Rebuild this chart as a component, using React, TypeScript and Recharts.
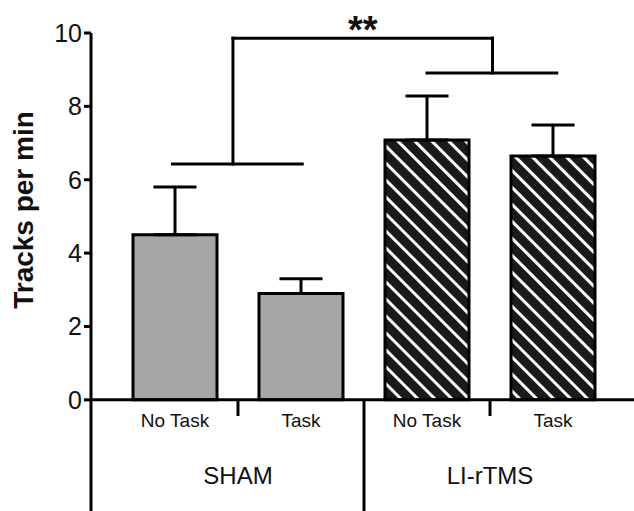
import React from 'react';
import {
  BarChart,
  Bar,
  XAxis,
  YAxis,
  Cell,
  ErrorBar,
  LabelList,
  ReferenceLine,
  ReferenceDot,
} from 'recharts';

// ---- data ----
const categories = ['No Task', 'Task', 'No Task', 'Task'];
const groups = ['SHAM', 'SHAM', 'LI-rTMS', 'LI-rTMS'];
const means = [4.5, 2.9, 7.08, 6.65];
const sems = [1.3, 0.4, 1.2, 0.84];
const yTicks = [0, 2, 4, 6, 8, 10];
const groupLabels = ['SHAM', 'LI-rTMS'];
const groupCenters = [0.5, 2.5]; // helper axis: bar index units (bar centers at 0..3)
const significance = '**';

// annotation geometry in data units (helper x axis: bar index, y: tracks/min)
const bracketSegments: [number, number, number, number][] = [
  [-0.02, 6.43, 1.01, 6.43],
  [0.46, 6.43, 0.46, 9.86],
  [0.46, 9.86, 2.52, 9.86],
  [2.52, 9.86, 2.52, 8.91],
  [2.0, 8.91, 3.03, 8.91],
];
const dividerSegments: [number, number, number, number][] = [
  [0.5, 0, 0.5, -0.44],
  [1.5, 0, 1.5, -3.03],
  [2.5, 0, 2.5, -0.44],
];

const data = categories.map((c, i) => ({
  key: `${groups[i]} ${c}`,
  task: c,
  group: groups[i],
  mean: means[i],
  err: [0, sems[i]],
}));

const FONT = '"Liberation Sans", Arial, Helvetica, sans-serif';
const INK = '#111';

const textLabel =
  (text: string, fontSize: number, weight: string | number = 'normal') =>
  (props: any) => {
    const vb = props.viewBox || {};
    const cx = (vb.x ?? 0) + (vb.width ?? 0) / 2;
    const cy = (vb.y ?? 0) + (vb.height ?? 0) / 2;
    return (
      <text
        x={cx}
        y={cy}
        textAnchor="middle"
        fontFamily={FONT}
        fontSize={fontSize}
        fontWeight={weight}
        fill={INK}
      >
        {text}
      </text>
    );
  };

const TaskLabel = (props: any) => {
  const x = props.x ?? props.viewBox?.x ?? 0;
  const y = props.y ?? props.viewBox?.y ?? 0;
  const w = props.width ?? props.viewBox?.width ?? 0;
  const h = props.height ?? props.viewBox?.height ?? 0;
  return (
    <text
      x={x + w / 2}
      y={y + h + 27}
      textAnchor="middle"
      fontFamily={FONT}
      fontSize={19}
      fill={INK}
    >
      {props.value}
    </text>
  );
};

const YLabel = () => (
  <text
    x={33}
    y={210}
    transform="rotate(-90 33 210)"
    textAnchor="middle"
    fontFamily={FONT}
    fontSize={28}
    fontWeight="bold"
    fill={INK}
  >
    Tracks per min
  </text>
);

export default function App() {
  return (
    <div style={{ position: 'absolute', left: 0, top: 0, background: '#fff' }}>
      <BarChart
        width={634}
        height={511}
        data={data}
        margin={{ top: 33, right: 0, bottom: 0, left: 0 }}
      >
        <defs>
          <pattern
            id="hatch"
            patternUnits="userSpaceOnUse"
            width={12}
            height={12}
            patternTransform="rotate(-45)"
          >
            <rect x={0} y={0} width={12} height={12} fill="#1a1a1a" />
            <rect x={0} y={0} width={3} height={12} fill="#ffffff" />
          </pattern>
        </defs>
        <XAxis
          dataKey="key"
          type="category"
          hide
          padding={{ left: 21, right: 18 }}
        />
        <XAxis
          xAxisId="num"
          type="number"
          domain={[0, 3]}
          allowDataOverflow
          hide
          padding={{ left: 84, right: 81 }}
        />
        <YAxis
          type="number"
          domain={[-3.03, 10]}
          allowDataOverflow
          ticks={yTicks}
          width={91}
          axisLine={{ stroke: '#000', strokeWidth: 3 }}
          tickLine={{ stroke: '#000', strokeWidth: 3 }}
          tickSize={7}
          tickMargin={2}
          tick={{ fontFamily: FONT, fontSize: 25, fill: INK }}
          label={<YLabel />}
        />
        <Bar
          dataKey="mean"
          barSize={84}
          stroke="#000"
          strokeWidth={3}
          isAnimationActive={false}
        >
          {data.map((d, i) => (
            <Cell
              key={i}
              fill={d.group === 'SHAM' ? '#a6a6a6' : 'url(#hatch)'}
            />
          ))}
          <ErrorBar
            dataKey="err"
            direction="y"
            width={21.5}
            stroke="#000"
            strokeWidth={3}
            isAnimationActive={false}
          />
          <LabelList dataKey="task" content={<TaskLabel />} />
        </Bar>
        <ReferenceLine y={0} stroke="#000" strokeWidth={3} />
        {dividerSegments.map((s, i) => (
          <ReferenceLine
            key={`d${i}`}
            xAxisId="num"
            segment={[
              { x: s[0], y: s[1] },
              { x: s[2], y: s[3] },
            ]}
            stroke="#000"
            strokeWidth={3}
            ifOverflow="visible"
          />
        ))}
        {bracketSegments.map((s, i) => (
          <ReferenceLine
            key={`b${i}`}
            xAxisId="num"
            segment={[
              { x: s[0], y: s[1] },
              { x: s[2], y: s[3] },
            ]}
            stroke="#000"
            strokeWidth={3}
            strokeLinecap="square"
            ifOverflow="visible"
          />
        ))}
        {groupLabels.map((g, i) => (
          <ReferenceDot
            key={`g${i}`}
            xAxisId="num"
            x={groupCenters[i]}
            y={-2.3}
            r={1}
            fill="none"
            stroke="none"
            ifOverflow="visible"
            label={textLabel(g, 24)}
          />
        ))}
        <ReferenceDot
          xAxisId="num"
          x={1.49}
          y={9.73}
          r={1}
          fill="none"
          stroke="none"
          ifOverflow="visible"
          label={textLabel(significance, 38, 'bold')}
        />
      </BarChart>
    </div>
  );
}
